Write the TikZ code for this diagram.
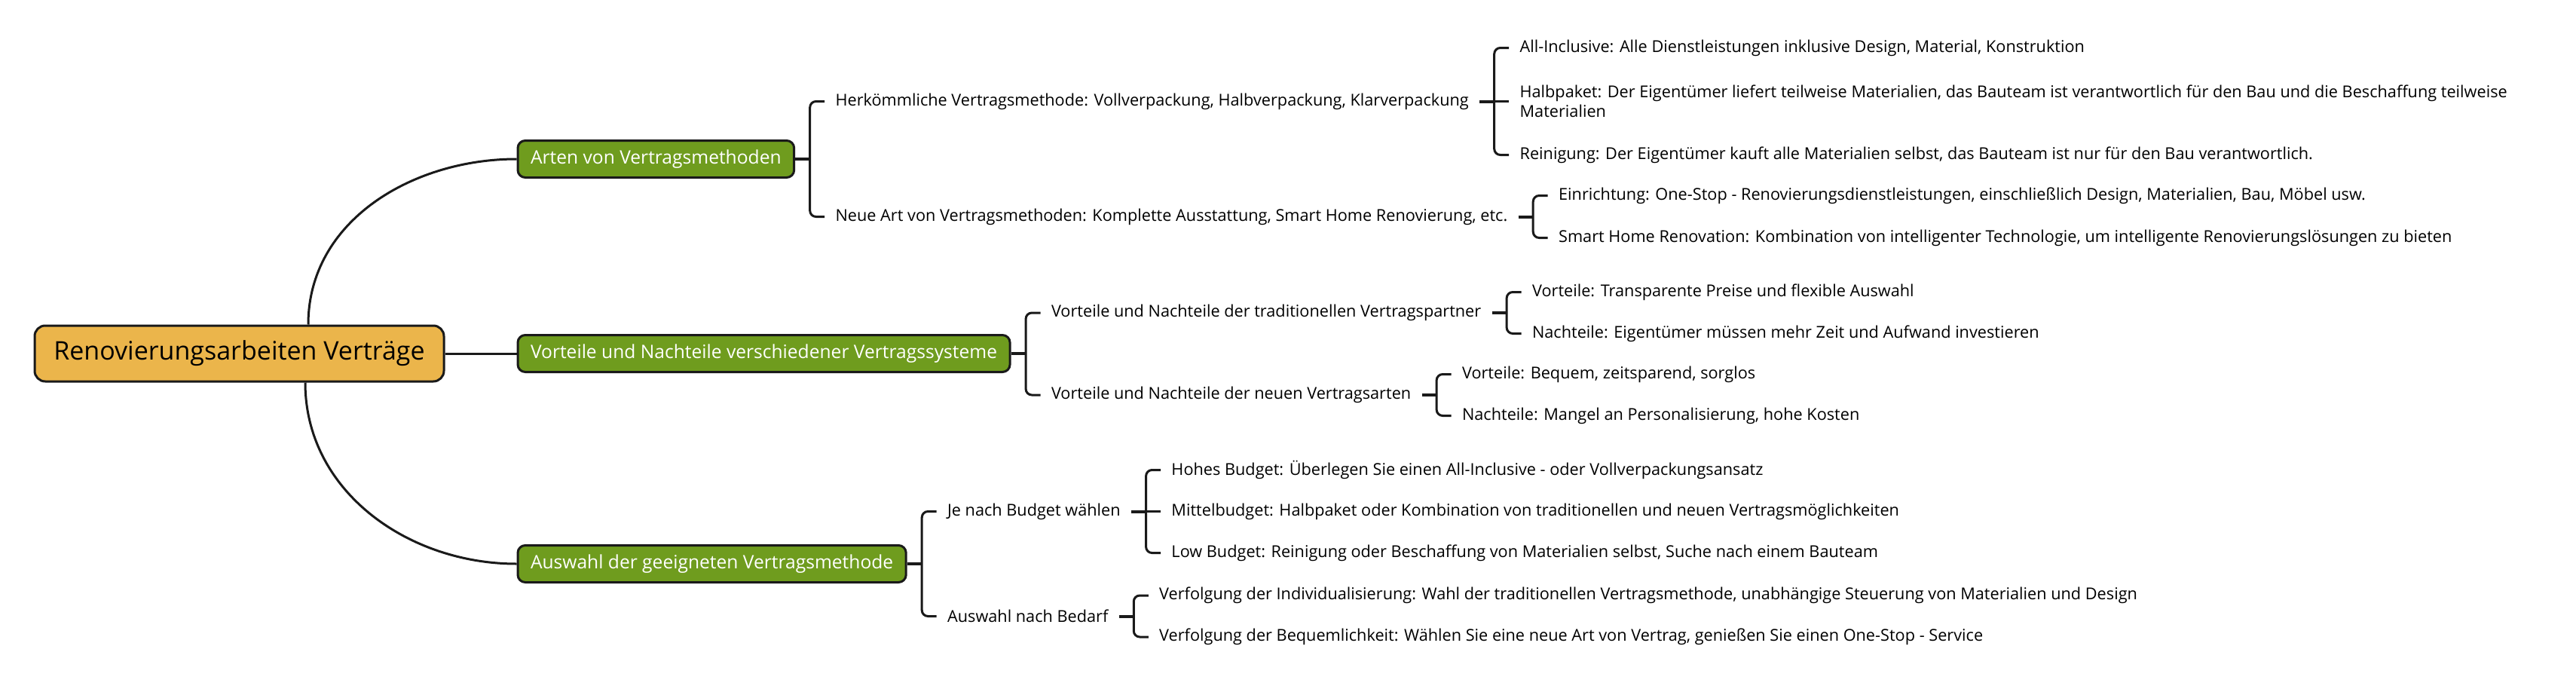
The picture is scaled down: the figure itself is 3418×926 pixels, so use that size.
\documentclass[tikz,border=0pt]{standalone}
\usepackage{fontspec}
\setmainfont{Open Sans}
\usetikzlibrary{positioning}

\definecolor{rootfill}{RGB}{235,181,75}
\definecolor{topicfill}{RGB}{111,156,30}
\definecolor{inkline}{RGB}{26,26,26}

\begin{document}
\begin{tikzpicture}[
            x=0.5pt, y=-0.5pt,
            node distance=19.5pt,
            root/.style={draw=inkline, line width=1.5pt, rounded corners=7pt, fill=rootfill, font=\fontsize{17}{20}\selectfont, minimum width=271.5pt, minimum height=37pt},
            topic/.style={draw=inkline, line width=1.5pt, rounded corners=5pt, fill=topicfill, text=white, font=\fontsize{12.3}{14}\selectfont, inner xsep=8.5pt, minimum height=24.5pt},
            leaf/.style={font=\fontsize{10.85}{13}\selectfont, inner xsep=7pt, inner ysep=1pt, align=left},
            link/.style={draw=inkline, line width=1.5pt, rounded corners=4pt},
            stub/.style={draw=inkline, line width=2pt}
        ]
        \useasboundingbox (0,0) rectangle (3418,926);
        \fill[white] (0,0) rectangle (3418,926);

        \node[root] (root) at (317.5,469) {Renovierungsarbeiten Verträge};
        \node[topic, right=47.5pt of root, yshift=129pt] (arten) {Arten von Vertragsmethoden};
        \node[topic, right=47.5pt of root] (vorteile) {Vorteile und Nachteile verschiedener Vertragssysteme};
        \node[topic, right=47.5pt of root, yshift=-139.5pt] (auswahl) {Auswahl der geeigneten Vertragsmethode};

        % Arten von Vertragsmethoden
        \node[leaf, right=of arten, yshift=38.25pt] (herk) {Herkömmliche Vertragsmethode: Vollverpackung, Halbverpackung, Klarverpackung};
        \node[leaf, right=of arten, yshift=-38.25pt] (neueart) {Neue Art von Vertragsmethoden: Komplette Ausstattung, Smart Home Renovierung, etc.};
        \node[leaf, right=of herk, yshift=35.5pt] (allinc) {All-Inclusive: Alle Dienstleistungen inklusive Design, Material, Konstruktion};
        \node[leaf, right=of herk] (halb) {Halbpaket: Der Eigentümer liefert teilweise Materialien, das Bauteam ist verantwortlich für den Bau und die Beschaffung teilweise\\Materialien};
        \node[leaf, right=of herk, yshift=-35.5pt] (rein) {Reinigung: Der Eigentümer kauft alle Materialien selbst, das Bauteam ist nur für den Bau verantwortlich.};
        \node[leaf, right=of neueart, yshift=14pt] (einr) {Einrichtung: One-Stop - Renovierungsdienstleistungen, einschließlich Design, Materialien, Bau, Möbel usw.};
        \node[leaf, right=of neueart, yshift=-14pt] (smart) {Smart Home Renovation: Kombination von intelligenter Technologie, um intelligente Renovierungslösungen zu bieten};

        % Vorteile und Nachteile
        \node[leaf, right=of vorteile, yshift=27pt] (trad) {Vorteile und Nachteile der traditionellen Vertragspartner};
        \node[leaf, right=of vorteile, yshift=-27.5pt] (neuarten) {Vorteile und Nachteile der neuen Vertragsarten};
        \node[leaf, right=of trad, yshift=13.75pt] (tradvor) {Vorteile: Transparente Preise und flexible Auswahl};
        \node[leaf, right=of trad, yshift=-13.75pt] (tradnach) {Nachteile: Eigentümer müssen mehr Zeit und Aufwand investieren};
        \node[leaf, right=of neuarten, yshift=13.75pt] (neuvor) {Vorteile: Bequem, zeitsparend, sorglos};
        \node[leaf, right=of neuarten, yshift=-13.75pt] (neunach) {Nachteile: Mangel an Personalisierung, hohe Kosten};

        % Auswahl
        \node[leaf, right=of auswahl, yshift=34.75pt] (budget) {Je nach Budget wählen};
        \node[leaf, right=of auswahl, yshift=-34.75pt] (bedarf) {Auswahl nach Bedarf};
        \node[leaf, right=of budget, yshift=27.5pt] (hoch) {Hohes Budget: Überlegen Sie einen All-Inclusive - oder Vollverpackungsansatz};
        \node[leaf, right=of budget] (mittel) {Mittelbudget: Halbpaket oder Kombination von traditionellen und neuen Vertragsmöglichkeiten};
        \node[leaf, right=of budget, yshift=-27.5pt] (low) {Low Budget: Reinigung oder Beschaffung von Materialien selbst, Suche nach einem Bauteam};
        \node[leaf, right=of bedarf, yshift=13.75pt] (indiv) {Verfolgung der Individualisierung: Wahl der traditionellen Vertragsmethode, unabhängige Steuerung von Materialien und Design};
        \node[leaf, right=of bedarf, yshift=-13.75pt] (bequem) {Verfolgung der Bequemlichkeit: Wählen Sie eine neue Art von Vertrag, genießen Sie einen One-Stop - Service};

        \draw[link] ([xshift=45.75pt]root.north) to[out=90, in=180] (arten.west);
        \draw[link] (root.east) -- (vorteile.west);
        \draw[link] ([xshift=43.75pt]root.south) to[out=-90, in=180] (auswahl.west);

        \draw[stub] (arten.east) -- ++(9.75pt,0) coordinate (arten-j);
        \draw[link] (herk.west) -| (arten-j) |- (neueart.west);
        \draw[stub] (herk.east) -- ++(9.75pt,0) coordinate (herk-j);
        \draw[link] (allinc.west) -| (herk-j) |- (rein.west);
        \draw[link] (herk-j) -- (halb.west);
        \draw[stub] (neueart.east) -- ++(9.75pt,0) coordinate (neueart-j);
        \draw[link] (einr.west) -| (neueart-j) |- (smart.west);

        \draw[stub] (vorteile.east) -- ++(9.75pt,0) coordinate (vorteile-j);
        \draw[link] (trad.west) -| (vorteile-j) |- (neuarten.west);
        \draw[stub] (trad.east) -- ++(9.75pt,0) coordinate (trad-j);
        \draw[link] (tradvor.west) -| (trad-j) |- (tradnach.west);
        \draw[stub] (neuarten.east) -- ++(9.75pt,0) coordinate (neuarten-j);
        \draw[link] (neuvor.west) -| (neuarten-j) |- (neunach.west);

        \draw[stub] (auswahl.east) -- ++(9.75pt,0) coordinate (auswahl-j);
        \draw[link] (budget.west) -| (auswahl-j) |- (bedarf.west);
        \draw[stub] (budget.east) -- ++(9.75pt,0) coordinate (budget-j);
        \draw[link] (hoch.west) -| (budget-j) |- (low.west);
        \draw[link] (budget-j) -- (mittel.west);
        \draw[stub] (bedarf.east) -- ++(9.75pt,0) coordinate (bedarf-j);
        \draw[link] (indiv.west) -| (bedarf-j) |- (bequem.west);
\end{tikzpicture}
\end{document}
